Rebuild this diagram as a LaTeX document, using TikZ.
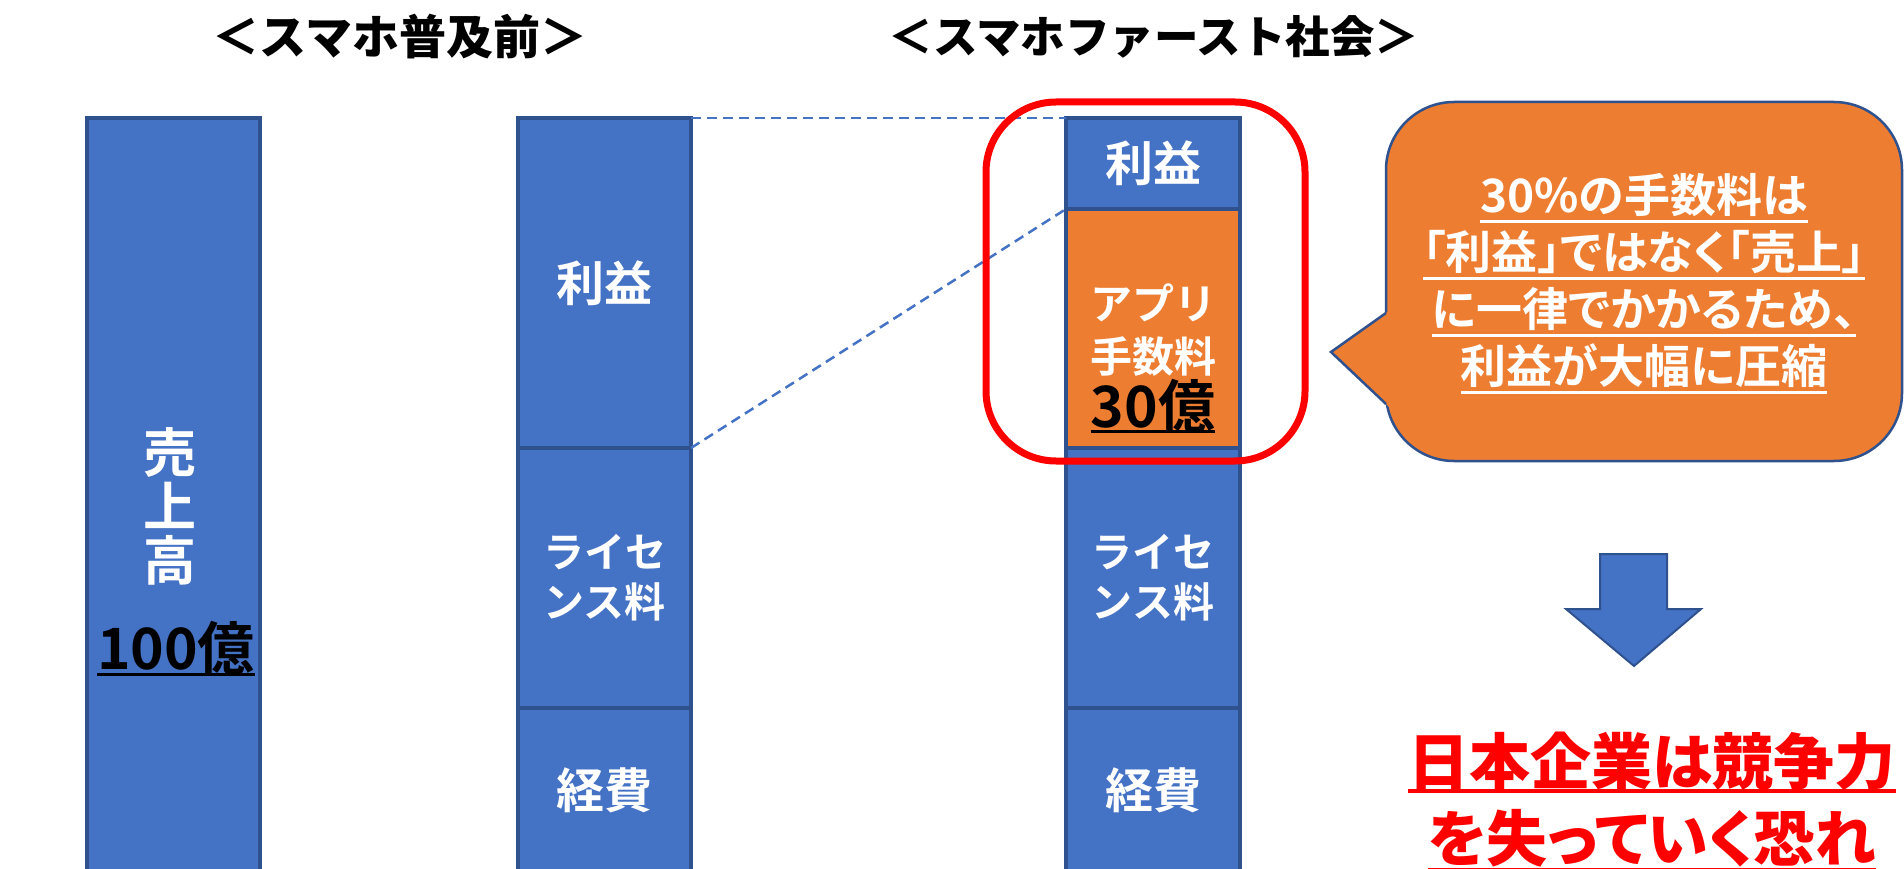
\documentclass[tikz,border=0pt]{standalone}
\usepackage{fontspec}
\usetikzlibrary{calc}
\newfontfamily\jp{Noto Sans CJK JP}[BoldFont={Noto Sans CJK JP Bold}]
\newfontfamily\jpp{Noto Sans CJK JP}[BoldFont={Noto Sans CJK JP Bold},RawFeature=+palt]
\newfontfamily\jpblk{Noto Sans CJK JP Black}[RawFeature=+palt]
\newfontfamily\jpblkn{Noto Sans CJK JP Black}
\definecolor{barblue}{HTML}{4472C4}
\definecolor{bardark}{HTML}{2F528F}
\definecolor{feeorange}{HTML}{ED7D31}
\definecolor{alertred}{HTML}{FF0000}
\newsavebox\ulbox
\newcommand\ulx[3]{\sbox\ulbox{#3}\rlap{\smash{\rule[-#1]{\wd\ulbox}{#2}}}\usebox\ulbox}
\newcommand\fs[2]{\fontsize{#1pt}{#2pt}\selectfont}
\tikzset{
  seg/.style={draw=bardark, line width=4.5pt, fill=barblue, inner sep=0pt, outer sep=0pt,
    text=white, align=center, font=\jp\bfseries\fs{48}{54}},
  lab/.style={inner sep=0pt, align=center, text=white},
  titletext/.style={inner sep=0pt, text=black},
  dashline/.style={draw=barblue, line width=2.5pt, dash pattern=on 10pt off 6pt},
}
\begin{document}
\begin{tikzpicture}[x=1pt,y=-1pt]
\useasboundingbox (0,0) rectangle (1904,869);
\clip (0,0) rectangle (1904,869);
\fill[white] (0,0) rectangle (1904,869);

% titles
\node (t1) [titletext, font=\jpblkn\fs{47}{50}] at (400,37) {＜スマホ普及前＞};
\node (t2) [titletext, font=\jpblkn\fs{44.5}{50}] at (1154,37) {＜スマホファースト社会＞};

% left bar
\node (L) [seg, minimum width=173pt, minimum height=762pt] at (173.5,499) {};
\node (Llab) [lab, font=\jp\bfseries\fs{53}{54}] at (170,506) {売\\上\\高};
\node (Lval) [lab, text=black, font=\jp\bfseries\fs{57}{60}] at (176,648) {\ulx{6pt}{3pt}{100億}};

% middle bar
\node (M1) [seg, minimum width=173pt, minimum height=330pt] at (604.5,283) {利益};
\node (M2) [seg, minimum width=173pt, minimum height=260pt, font=\jp\bfseries\fs{41}{50}] at (604.5,578) {ライセ\\ンス料};
\node (M3) [seg, minimum width=173pt, minimum height=164pt] at (604.5,790) {経費};

% right bar
\node (R1) [seg, minimum width=174pt, minimum height=91pt] at (1153,163.5) {利益};
\node (R2) [seg, fill=feeorange, minimum width=174pt, minimum height=239pt] at (1153,328.5) {};
\node (R3) [seg, minimum width=174pt, minimum height=260pt, font=\jp\bfseries\fs{41}{50}] at (1153,578) {ライセ\\ンス料};
\node (R4) [seg, minimum width=174pt, minimum height=164pt] at (1153,790) {経費};
\node (R2a) [lab, font=\jp\bfseries\fs{42}{50}] at (1153,303) {アプリ};
\node (R2b) [lab, font=\jp\bfseries\fs{42}{50}] at (1153,357) {手数料};
\node (R2c) [lab, text=black, font=\jp\bfseries\fs{57}{60}] at (1153,406) {\ulx{5pt}{3pt}{30億}};

% dashed connectors
\draw[dashline] (M1.north east) -- (R1.north west);
\draw[dashline] (M1.south east) -- (R2.north west);

% highlight frame
\node (hl) [draw=alertred, line width=7pt, rounded corners=70pt, minimum width=319pt,
  minimum height=359pt, inner sep=0pt] at (1145.5,281.5) {};

% callout
\node (bubble) [draw=bardark, line width=2.5pt, fill=feeorange, rounded corners=68pt,
  minimum width=516pt, minimum height=359pt, inner sep=0pt, outer sep=0pt] at (1644,281.5) {};
\coordinate (tip) at (1331,352);
\coordinate (pa) at (1386,313);
\coordinate (pb) at (1386,404);
\fill[feeorange] (tip) -- ($(tip)!1.08!(pa)$) -- ($(tip)!1.08!(pb)$) -- cycle;
\draw[draw=bardark, line width=2.5pt, line join=miter] (pa) -- (tip) -- (pb);
\node (btext) [lab, font=\jpp\bfseries\fs{46}{57}] at (1644,280)
  {\ulx{11pt}{3pt}{30\%の手数料は}\\
   \ulx{11pt}{3pt}{「利益」ではなく「売上」}\\
   \ulx{11pt}{3pt}{に一律でかかるため、}\\
   \ulx{11pt}{3pt}{利益が大幅に圧縮}};

% down arrow
\draw[fill=barblue, draw=bardark, line width=2pt] (1600,554) -- (1667,554) -- (1667,609)
  -- (1701,609) -- (1634,666) -- (1566,609) -- (1600,609) -- cycle;

% conclusion
\node (c1) [lab, text=alertred, font=\jpblk\fs{61}{70}] at (1652,761) {\ulx{9pt}{4pt}{日本企業は競争力}};
\node (c2) [lab, text=alertred, font=\jpblk\fs{61}{70}] at (1652,838) {\ulx{10pt}{3pt}{を失っていく恐れ}};
\end{tikzpicture}
\end{document}
